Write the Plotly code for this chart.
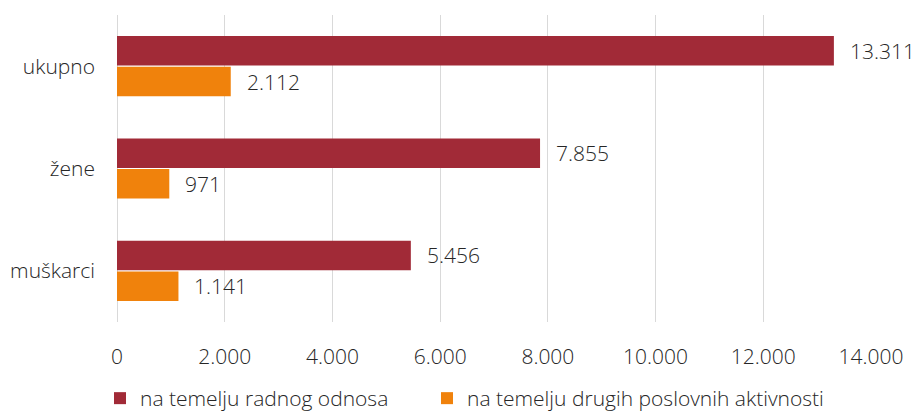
import plotly.graph_objects as go

categories = ["ukupno", "žene", "muškarci"]
radni_odnos = [13311, 7855, 5456]
druge_aktivnosti = [2112, 971, 1141]
series_names = ["na temelju radnog odnosa", "na temelju drugih poslovnih aktivnosti"]
colors = ["#A12A37", "#F0820C"]
tick_vals = [0, 2000, 4000, 6000, 8000, 10000, 12000, 14000]

FONT = "Open Sans"
TXT = "#262626"
FS = 21
BARGAP = 0.40

def fmt(v):
    return f"{v:,}".replace(",", ".")

legend_ids = ["legend", "legend2"]
legend_x = [100, 427]

fig = go.Figure()
for name, vals, col, lid in zip(series_names, [radni_odnos, druge_aktivnosti], colors, legend_ids):
    fig.add_trace(go.Bar(
        y=categories, x=vals, name=name, orientation="h",
        marker=dict(color=col, line=dict(width=0)),
        cliponaxis=False, legend=lid,
    ))

# data labels, centred on each bar of the group
slot = (1 - BARGAP) / 2
offsets = [-slot / 2, slot / 2]
for vals, off in zip([radni_odnos, druge_aktivnosti], offsets):
    for i, v in enumerate(vals):
        fig.add_annotation(
            x=v, y=i + off, xref="x", yref="y",
            text=fmt(v), showarrow=False, xanchor="left", yanchor="middle",
            xshift=14, font=dict(family=FONT, size=FS, color=TXT, weight=300),
        )

legend_style = dict(orientation="h", xref="container", xanchor="left",
                    yref="container", y=0.0, yanchor="bottom",
                    font=dict(family=FONT, size=FS, color=TXT, weight=300),
                    itemwidth=30, bgcolor="rgba(0,0,0,0)")

fig.update_layout(
    width=919, height=419,
    margin=dict(l=117, r=48, t=15, b=97, autoexpand=False),
    paper_bgcolor="white", plot_bgcolor="white",
    barmode="group", bargap=BARGAP, bargroupgap=0.04,
    separators=",.",
    font=dict(family=FONT, size=FS, color=TXT, weight=300),
    showlegend=True,
    legend=dict(x=legend_x[0] / 919, **legend_style),
    legend2=dict(x=legend_x[1] / 919, **legend_style),
    xaxis=dict(range=[0, 14000], tickvals=tick_vals,
               ticktext=[fmt(t) for t in tick_vals], automargin=False,
               showgrid=True, gridcolor="#D9D9D9", gridwidth=1,
               zeroline=True, zerolinecolor="#D9D9D9", zerolinewidth=1,
               showline=False, ticks="", ticklabelstandoff=20,
               tickfont=dict(family=FONT, size=FS, color=TXT, weight=300)),
    yaxis=dict(autorange="reversed", showgrid=False, showline=False, ticks="",
               ticklabelstandoff=21, automargin=False,
               tickfont=dict(family=FONT, size=FS, color=TXT, weight=300)),
)

fig.write_html("out.html", config={"displayModeBar": False},
               post_script="document.body.style.margin='0';document.body.style.overflow='hidden';")
